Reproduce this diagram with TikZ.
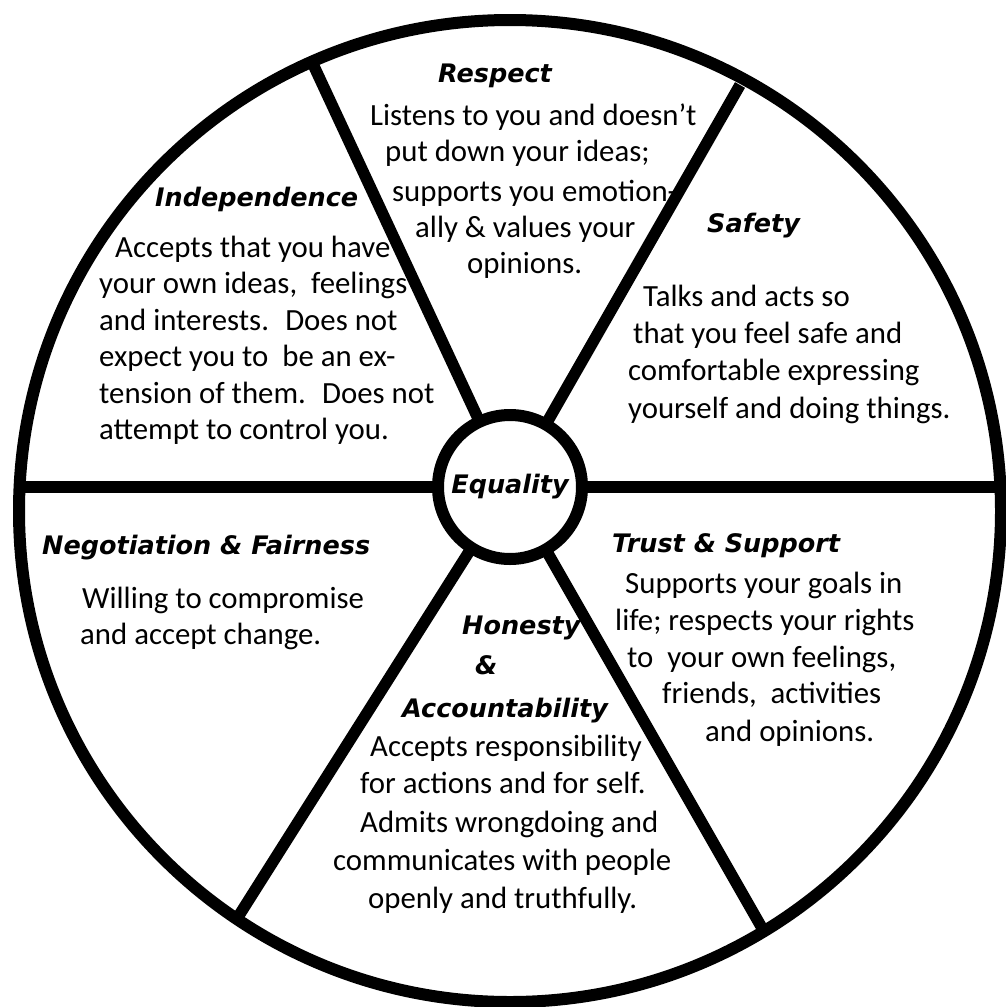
\documentclass[tikz,border=0pt]{standalone}
\usepackage{fontspec}
\setmainfont{Carlito}
\newfontfamily\headfont{DejaVu Sans}
\begin{document}
\begin{tikzpicture}[x=1pt,y=-1pt,
  body/.style={font=\fontsize{30.8}{36}\selectfont, anchor=base west, inner sep=0pt},
  head/.style={font=\headfont\bfseries\itshape\fontsize{25.5}{28}\selectfont, anchor=base west, inner sep=0pt},
  rim/.style={line width=12pt},
  spoke/.style={line width=11.5pt}]
\useasboundingbox (0,0) rectangle (1006,1007);
% text (drawn first, spokes run over it)
% Respect
\node[head] (rh) at (438,82) {Respect};
\node[body] (r1) at (370,125) {Listens to you and doesn’t};
\node[body] (r2) at (385,161) {put down your ideas;};
\node[body] (r3) at (392,201) {supports you emotion-};
\node[body] (r4) at (415,237) {ally \& values your};
\node[body] (r5) at (467,273) {opinions.};
% Independence
\node[head] (ih) at (155,206) {Independence};
\node[body] (i1) at (115,257) {Accepts that you have};
\node[body] (i2) at (99,293) {your own ideas,~ feelings};
\node[body] (i3) at (99,330) {and interests.~ Does not};
\node[body] (i4) at (99,366) {expect you to~ be an ex-};
\node[body] (i5) at (99,403) {tension of them.~ Does not};
\node[body] (i6) at (99,439) {attempt to control you.};
% Safety
\node[head] (sh) at (707,232) {Safety};
\node[body] (s1) at (643,306) {Talks and acts so};
\node[body] (s2) at (633,343) {that you feel safe and};
\node[body] (s3) at (628,380) {comfortable expressing};
\node[body] (s4) at (628,418) {yourself and doing things.};
% Negotiation
\node[head] (nh) at (42,554) {Negotiation \& Fairness};
\node[body] (n1) at (82,608) {Willing to compromise};
\node[body] (n2) at (80,644) {and accept change.};
% Trust
\node[head] (th) at (612,552) {Trust \& Support};
\node[body] (t1) at (625,593) {Supports your goals in};
\node[body] (t2) at (615,630) {life; respects your rights};
\node[body] (t3) at (627,667) {to~ your own feelings,};
\node[body] (t4) at (662,703) {friends,~ activities};
\node[body] (t5) at (705,741) {and opinions.};
% Honesty
\node[head] (hh1) at (462,634) {Honesty};
\node[head] (hh2) at (475,674) {\&};
\node[head] (hh3) at (402,717) {Accountability};
\node[body] (h1) at (370,756) {Accepts responsibility};
\node[body] (h2) at (360,793) {for actions and for self.};
\node[body] (h3) at (360,832) {Admits wrongdoing and};
\node[body] (h4) at (333,870) {communicates with people};
\node[body] (h5) at (368,908) {openly and truthfully.};
% wheel
\coordinate (hub) at (510,487);
\coordinate (c) at (510,511);
\coordinate (pUL) at (312,62);
\coordinate (pUR) at (740,85);
\coordinate (pLL) at (238,917);
\coordinate (pLR) at (762,928);
\coordinate (pL) at (19,487);
\coordinate (pR) at (1001,487);
\draw[rim] (c) circle[radius=491];
\foreach \p in {pUL,pUR,pLL,pLR,pL,pR} \draw[spoke] (hub) -- (\p);
\draw[rim, fill=white] (hub) circle[radius=72];
\node[head, anchor=center] (eq) at (hub) {Equality};
\end{tikzpicture}
\end{document}
